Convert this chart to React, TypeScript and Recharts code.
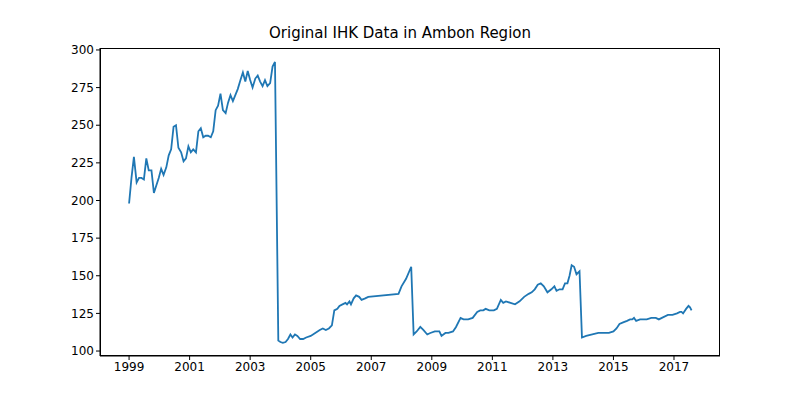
import React from 'react';
import { LineChart, Line, XAxis, YAxis } from 'recharts';

const segYears1 = [1999.00,1999.08,1999.16,1999.25,1999.33,1999.41,1999.49,1999.57,1999.65,1999.74,1999.82,1999.90,1999.98,2000.06,2000.14,2000.23,2000.31,2000.39,2000.47,2000.55,2000.63,2000.72,2000.80,2000.88,2000.96,2001.04,2001.12,2001.21,2001.29,2001.37,2001.45,2001.53,2001.61,2001.70,2001.78,2001.86,2001.94,2002.02,2002.10,2002.19,2002.27,2002.35,2002.43,2002.51,2002.59,2002.68,2002.76,2002.84,2002.92,2003.00,2003.08,2003.17,2003.25,2003.33,2003.41,2003.49,2003.57,2003.66,2003.74,2003.82,2003.90];
const segValues1 = [198,215,229,212,215,215,214,228,220,220,205,210,215,221,217,222,230,234,249,250,235,232,226,228,236,232,234,232,246,248,242,243,243,242,246,260,263,271,260,258,265,270,266,270,274,280,285,279,286,280,275,281,283,279,276,280,276,278,289,292];

const restYears = [2003.93,2004.0,2004.08,2004.17,2004.25,2004.33,2004.4,2004.48,2004.56,2004.65,2004.75,2004.85,2005.0,2005.15,2005.3,2005.4,2005.5,2005.6,2005.7,2005.78,2005.88,2005.95,2006.05,2006.15,2006.2,2006.28,2006.33,2006.42,2006.5,2006.6,2006.68,2006.8,2006.9,2007.9,2008.0,2008.15,2008.32,2008.4,
2008.5,2008.62,2008.72,2008.85,2008.95,2009.1,2009.25,2009.32,2009.45,2009.55,2009.7,2009.8,2009.95,2010.05,2010.2,2010.35,2010.5,2010.6,2010.7,2010.78,2010.9,2011.05,2011.15,2011.28,2011.36,2011.45,2011.6,2011.75,2011.9,2012.05,2012.2,2012.3,2012.4,2012.5,2012.6,2012.7,2012.82,2012.95,2013.05,2013.12,2013.22,2013.32,2013.4,2013.48,2013.55,2013.62,2013.7,2013.78,2013.88,2013.96,
2014.1,2014.3,2014.5,2014.7,2014.85,2015.0,2015.1,2015.2,2015.32,2015.45,2015.55,2015.62,2015.68,2015.75,2015.88,2016.0,2016.1,2016.25,2016.4,2016.5,2016.6,2016.8,2016.95,2017.1,2017.2,2017.25,2017.3,2017.4,2017.48,2017.53,2017.58];
const restValues = [107,106,105.5,106,108,111,109,111,110,108,108,109,110,112,114,115,114,115,117,127,128,130,131,132,131,133,131,135,137,136,134,135,136,138,143,148,156,111,
113,116,114,111,112,113,113,110,112,112,113,116,122,121,121,122,126,127,127,128,127,127,128,134,132,133,132,131,133,136,138,139,141,144,145,143,139,141,143,140,141,141,145,145,150,157,156,151,153,109,
110,111,112,112,112,113,115,118,119,120,121,121,122,120,121,121,121,122,122,121,122,124,124,125,126,126,125,128,130,129,127];

const xTicks = [1999,2001,2003,2005,2007,2009,2011,2013,2015,2017];
const yTicks = [100,125,150,175,200,225,250,275,300];

const years = [...segYears1.slice(0, segValues1.length), ...restYears];
const values = [...segValues1, ...restValues];
const data = years.map((y, i) => ({ year: y, ihk: values[i] }));

const font = { fontFamily: 'DejaVu Sans', fontSize: 12, fill: '#000' };

export default function App() {
  return (
    <div style={{ position: 'absolute', left: 0, top: 0, width: 800, height: 400, background: '#fff' }}>
      <div style={{ position: 'absolute', top: 24, width: 800, textAlign: 'center', fontFamily: 'DejaVu Sans', fontSize: 15 }}>
        Original IHK Data in Ambon Region
      </div>
      <LineChart width={800} height={400} data={data} margin={{ top: 48, right: 80, bottom: 14, left: 60 }}>
        <XAxis dataKey="year" type="number" domain={[1998.04, 2018.52]} ticks={xTicks} allowDataOverflow
          stroke="#000" tick={font} tickSize={4} interval={0} height={30} />
        <YAxis type="number" domain={[96.7, 301.3]} ticks={yTicks} allowDataOverflow width={40}
          stroke="#000" tick={font} tickSize={4} interval={0} />
        <Line dataKey="ihk" stroke="#1f77b4" strokeWidth={1.8} dot={false} isAnimationActive={false} />
      </LineChart>
      <div style={{ position: 'absolute', left: 100, top: 48, width: 620, height: 308, border: '1px solid #000', boxSizing: 'border-box', pointerEvents: 'none' }} />
    </div>
  );
}
